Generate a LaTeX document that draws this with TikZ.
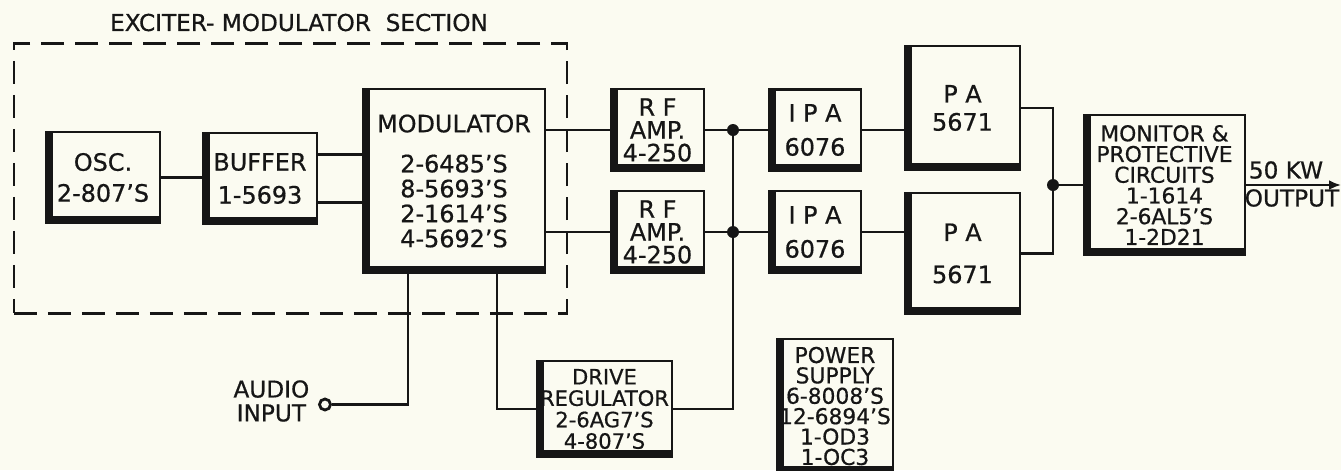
\documentclass[tikz,border=0pt]{standalone}
\usepackage{fontspec}
\setmainfont{DejaVu Sans}[FakeBold=0.6]
\usepackage{tikz}
\usetikzlibrary{positioning,arrows.meta,calc}
\usepackage{xcolor}
\definecolor{paper}{HTML}{FBFBF1}
\definecolor{ink}{HTML}{161616}

\begin{document}
\begin{tikzpicture}[
      color=ink,
      blk/.style={draw,line width=0.75pt,align=center,inner sep=0.5pt,
                  path picture={
                    \fill ([xshift=0.07cm]path picture bounding box.north west)
                      rectangle (path picture bounding box.south west);
                    \fill (path picture bounding box.south west)
                      rectangle ([yshift=0.07cm]path picture bounding box.south east);}},
      ls/.style={font=\fontsize{6.8}{#1}\selectfont},
      lss/.style={font=\fontsize{6.2}{#1}\selectfont},
      sect/.style={draw,line width=0.85pt,dash pattern=on 0.23cm off 0.11cm,
                  minimum width=5.53cm,minimum height=2.70cm},
      lbl/.style={font=\fontsize{6.6}{6.8}\selectfont,align=center,inner sep=0pt},
      wire/.style={line width=0.75pt},
      dot/.style={circle,fill,inner sep=0pt,minimum size=0.12cm},
      jack/.style={circle,draw,line width=0.8pt,inner sep=0pt,minimum size=0.11cm}]
    \fill[paper] (0,0) rectangle (13.41,-4.70);
    \useasboundingbox (0,0) rectangle (13.41,-4.70);

    % exciter-modulator section
    \node[sect] (exc) at (2.905,-1.78) {};
    \node[lbl] (exctitle) at ([xshift=0.085cm,yshift=0.19cm]exc.north) {EXCITER- MODULATOR\ \ SECTION};

    \node[blk,ls=8.8pt,minimum width=1.14cm,minimum height=0.91cm] (osc) at (1.03,-1.775) {OSC.\\2-807'S};
    \node[blk,ls=9.4pt,minimum width=1.14cm,minimum height=0.91cm] (buf) at (2.60,-1.785) {BUFFER\\1-5693};
    \node[blk,ls=7.1pt,minimum width=1.82cm,minimum height=1.84cm] (mod) at (4.54,-1.81)
      {MODULATOR\\[4.3pt]2-6485'S\\8-5693'S\\2-1614'S\\4-5692'S};

    % rf chain
    \node[blk,ls=6.5pt,minimum width=0.93cm,minimum height=0.82cm] (rf1) at (6.575,-1.30) {R F\\AMP.\\4-250};
    \node[blk,ls=6.5pt,minimum width=0.93cm,minimum height=0.82cm] (rf2) at (6.575,-2.32) {R F\\AMP.\\4-250};
    \node[blk,ls=9.7pt,minimum width=0.92cm,minimum height=0.81cm] (ipa1) at (8.15,-1.30) {I P A\\6076};
    \node[blk,ls=9.7pt,minimum width=0.92cm,minimum height=0.82cm] (ipa2) at (8.15,-2.32) {I P A\\6076};
    \node[blk,ls=8pt,minimum width=1.15cm,minimum height=1.24cm] (pa1) at (9.625,-1.08) {P A\\5671};
    \node[blk,ls=12pt,minimum width=1.15cm,minimum height=1.21cm] (pa2) at (9.625,-2.535) {P A\\5671};
    \node[blk,lss=5.9pt,minimum width=1.61cm,minimum height=1.40cm] (mon) at (11.645,-1.85)
      {MONITOR \&\\PROTECTIVE\\CIRCUITS\\1-1614\\2-6AL5'S\\1-2D21};

    % lower row
    \node[blk,font=\fontsize{6.0}{6.1}\selectfont,minimum width=1.35cm,minimum height=0.96cm] (drv) at (6.045,-4.09)
      {DRIVE\\REGULATOR\\2-6AG7'S\\4-807'S};
    \node[blk,lss=5.8pt,minimum width=1.16cm,minimum height=1.34cm] (pwr) at (8.35,-4.06)
      {POWER\\SUPPLY\\6-8008'S\\12-6894'S\\1-OD3\\1-OC3};

    \node[jack] (ain) at (3.25,-4.045) {};
    \node[lbl,anchor=east] (audio) at (3.10,-4.01) {AUDIO\\INPUT};

    \coordinate (j1) at (7.33,-1.30);
    \coordinate (j2) at (7.33,-2.32);
    \coordinate (j3) at (10.53,-1.85);
    \coordinate (out) at (13.41,-1.85);

    \draw[wire] (osc.east) -- (osc.east -| buf.west);
    \draw[wire] ([yshift=0.24cm]buf.east) -- ([yshift=0.24cm]buf.east -| mod.west);
    \draw[wire] ([yshift=-0.24cm]buf.east) -- ([yshift=-0.24cm]buf.east -| mod.west);
    \draw[wire] (rf1.west -| mod.east) -- (rf1.west);
    \draw[wire] (rf2.west -| mod.east) -- (rf2.west);
    \draw[wire] (rf1.east) -- (ipa1.west);
    \draw[wire] (rf2.east) -- (ipa2.west);
    \draw[wire] (ipa1.east) -- (ipa1.east -| pa1.west);
    \draw[wire] (ipa2.east) -- (ipa2.east -| pa2.west);
    \draw[wire] (pa1.east) -| (j3) |- (pa2.east);
    \draw[wire] (j3) -- (mon.west);
    \draw[wire,-{Latex[length=0.12cm,width=0.10cm]}] (mon.east) -- (out);
    \draw[wire] (ain) -| ([xshift=-0.46cm]mod.south);
    \draw[wire] ([xshift=0.43cm]mod.south) |- (drv.west);
    \draw[wire] (drv.east) -| (j1);

    \node[dot] (d1) at (j1) {};
    \node[dot] (d2) at (j2) {};
    \node[dot] (d3) at (j3) {};

    \node[lbl] (kw) at (12.86,-1.70) {50 KW};
    \node[lbl] (outlbl) at (12.92,-1.98) {OUTPUT};
  \end{tikzpicture}
\end{document}
